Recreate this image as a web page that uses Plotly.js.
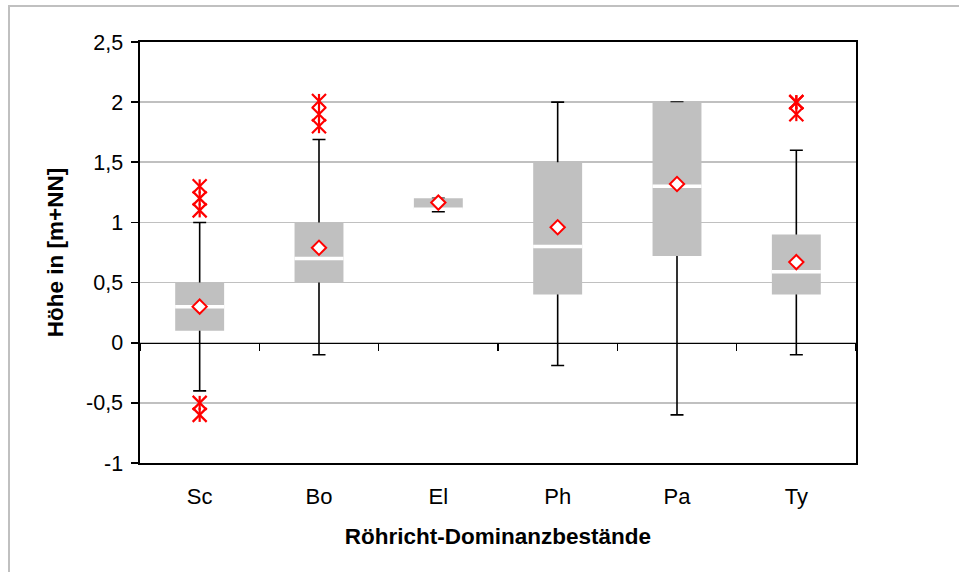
<!DOCTYPE html>
<html>
<head>
<meta charset="utf-8">
<script src="https://cdn.plot.ly/plotly-3.0.1.min.js"></script>
<style>
  html, body { margin: 0; padding: 0; background: #ffffff; }
  #wrap { position: relative; width: 959px; height: 572px; overflow: hidden; }
  #chart { width: 959px; height: 572px; }
  #frame { position: absolute; left: 8px; top: 5px; width: 1200px; height: 1200px;
           border-left: 2px solid #c0c0c0; border-top: 2px solid #c0c0c0;
           pointer-events: none; box-sizing: border-box; }
</style>
</head>
<body>
<div id="wrap">
  <div id="chart"></div>
  <div id="frame"></div>
</div>
<script>
// ---- data ----
const categories  = ['Sc', 'Bo', 'El', 'Ph', 'Pa', 'Ty'];
const q1          = [0.10, 0.50, 1.11, 0.40, 0.72, 0.40];
const median      = [0.30, 0.70, 1.11, 0.80, 1.30, 0.59];
const q3          = [0.50, 1.00, 1.20, 1.50, 2.00, 0.90];
const whiskerLow  = [-0.40, -0.10, 1.09, -0.19, -0.60, -0.10];
const whiskerHigh = [1.00, 1.69, 1.20, 2.00, 2.00, 1.60];
const mean        = [0.30, 0.79, 1.165, 0.96, 1.32, 0.67];
const outSc = [1.30, 1.20, 1.10, -0.50, -0.60];
const outBo = [2.01, 1.90, 1.80];
const outEl = [];
const outPh = [];
const outPa = [];
const outTy = [2.00, 2.00, 1.90];
const yTickVals = [-1, -0.5, 0, 0.5, 1, 1.5, 2, 2.5];
const yTickText = ['-1', '-0,5', '0', '0,5', '1', '1,5', '2', '2,5'];
const xTitle = 'Röhricht-Dominanzbestände';
const yTitle = 'Höhe in [m+NN]';

// ---- derived arrays for the library ----
const outLists = [outSc, outBo, outEl, outPh, outPa, outTy];
const outX = [], outY = [];
outLists.forEach((lst, i) => lst.forEach(v => { outX.push(categories[i]); outY.push(v); }));
const errUp = q3.map((_, i) => whiskerHigh[i] - median[i]);
const errDown = q3.map((_, i) => median[i] - whiskerLow[i]);
const boxHeight = q3.map((v, i) => v - q1[i]);
const yMin = yTickVals[0], yMax = yTickVals[yTickVals.length - 1];

const FONT = 'Liberation Sans, Arial, sans-serif';
const RED = '#ff0000';
const BARW = 0.41;

const traces = [
  { // whiskers (drawn beneath the boxes)
    type: 'bar', x: categories, y: median, width: BARW,
    marker: { color: 'rgba(0,0,0,0)' },
    error_y: { type: 'data', symmetric: false, array: errUp, arrayminus: errDown,
               color: '#000000', thickness: 1.6, width: 6.5 },
    hoverinfo: 'skip'
  },
  { // boxes
    type: 'bar', x: categories, y: boxHeight, base: q1, width: BARW,
    marker: { color: '#c0c0c0', line: { width: 0 } },
    hoverinfo: 'skip'
  },
  { // medians
    type: 'scatter', mode: 'markers', x: categories, y: median, xaxis: 'x2',
    marker: { symbol: 'line-ew', size: 35, line: { color: '#ffffff', width: 3.5 } },
    hoverinfo: 'skip'
  },
  { // outliers: X part
    type: 'scatter', mode: 'markers', x: outX, y: outY, xaxis: 'x2',
    marker: { symbol: 'x-thin', size: 14, line: { color: RED, width: 2.2 } },
    hoverinfo: 'skip'
  },
  { // outliers: vertical stroke
    type: 'scatter', mode: 'markers', x: outX, y: outY, xaxis: 'x2',
    marker: { symbol: 'line-ns', size: 10, line: { color: RED, width: 2.2 } },
    hoverinfo: 'skip'
  },
  { // means
    type: 'scatter', mode: 'markers', x: categories, y: mean, xaxis: 'x2',
    marker: { symbol: 'diamond', size: 11, color: '#ffffff', line: { color: RED, width: 2 } },
    hoverinfo: 'skip'
  }
];

const layout = {
  width: 959, height: 572,
  margin: { l: 140, r: 103, t: 42, b: 109 },
  paper_bgcolor: '#ffffff', plot_bgcolor: '#ffffff',
  showlegend: false, barmode: 'overlay', separators: ', ',
  font: { family: FONT, color: '#000000' },
  xaxis: {
    type: 'category', categoryarray: categories, categoryorder: 'array',
    range: [-0.5, categories.length - 0.5],
    showline: true, mirror: true, linecolor: '#000000', linewidth: 1.6,
    ticks: '', showgrid: false, zeroline: false,
    tickfont: { family: FONT, size: 22, color: '#000000' },
    ticklabelstandoff: 13,
    title: { text: '<b>' + xTitle + '</b>', font: { family: FONT, size: 22.5, color: '#000000' }, standoff: 20 }
  },
  xaxis2: {
    type: 'category', categoryarray: categories, categoryorder: 'array',
    range: [-0.5, categories.length - 0.5],
    overlaying: 'x', anchor: 'free', side: 'bottom',
    position: (0 - yMin) / (yMax - yMin),
    showline: true, linecolor: '#000000', linewidth: 1.6,
    ticks: 'outside', tickson: 'boundaries', ticklen: 7, tickwidth: 1.6, tickcolor: '#000000',
    showticklabels: false, showgrid: false, zeroline: false
  },
  yaxis: {
    range: [yMin, yMax], tickvals: yTickVals, ticktext: yTickText,
    ticks: 'outside', ticklen: 7, tickwidth: 1.6, tickcolor: '#000000',
    showline: true, mirror: true, linecolor: '#000000', linewidth: 1.6,
    showgrid: true, gridcolor: '#c0c0c0', gridwidth: 1.6, zeroline: false,
    tickfont: { family: FONT, size: 21.5, color: '#000000' },
    ticklabelstandoff: 4,
    title: { text: '<b>' + yTitle + '</b>', font: { family: FONT, size: 22.5, color: '#000000' }, standoff: 16 }
  }
};

Plotly.newPlot('chart', traces, layout, { displayModeBar: false, staticPlot: true });
</script>
</body>
</html>
